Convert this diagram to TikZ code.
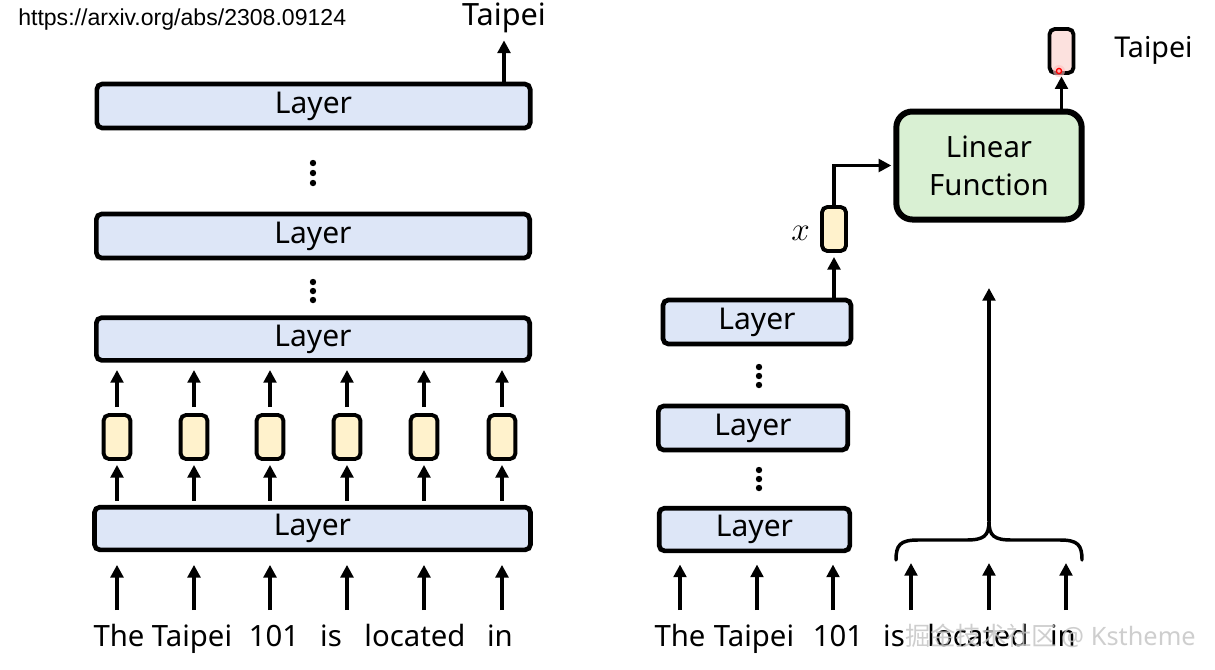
\documentclass[tikz,border=0pt]{standalone}
\usepackage{fontspec}
\setmainfont{Noto Sans}
\newfontfamily\urlfont{Liberation Sans}
\newfontfamily\cjk{Noto Sans CJK SC}
\usetikzlibrary{arrows.meta}
\definecolor{layerblue}{HTML}{DDE6F7}
\definecolor{cellyellow}{HTML}{FFF2CC}
\definecolor{lingreen}{HTML}{D9F0D3}
\definecolor{outpink}{HTML}{FCE1DE}
\tikzset{
  layerbox/.style={draw=black, line width=3.5pt, fill=layerblue, rounded corners=4pt, inner sep=0pt, font=\fontsize{22.5}{26}\selectfont},
  cellbox/.style={draw=black, line width=2.9pt, fill=cellyellow, rounded corners=4pt, minimum width=20pt, minimum height=33pt, inner sep=0pt},
  arr/.style={line width=2.5pt, -{Triangle[width=9.5pt,length=9.5pt]}},
  word/.style={font=\fontsize{22}{26}\selectfont, inner sep=0pt, anchor=base},
  dot/.style={fill=black, circle, inner sep=0pt, minimum size=4.8pt}
}
\begin{document}
\begin{tikzpicture}[x=0.75pt, y=-0.75pt]
\useasboundingbox (0,0) rectangle (1215,669);
% ---------- left panel ----------
\node[font=\urlfont\fontsize{17.3}{20}\selectfont, anchor=west, inner sep=0pt] (url) at (18,20) {https://arxiv.org/abs/2308.09124};
\node[font=\fontsize{23}{27}\selectfont] (tp) at (504,18) {Taipei};
\node[layerbox, minimum width=325pt, minimum height=33pt] (L1) at (313.5,106) {Layer};
\node[layerbox, minimum width=325pt, minimum height=33pt] (L2) at (313,236) {Layer};
\node[layerbox, minimum width=325pt, minimum height=32pt] (L3) at (313,339) {Layer};
\node[layerbox, minimum width=327pt, minimum height=32pt] (L4) at (312.5,528.5) {Layer};
\foreach \y in {163,173,183,282,291,300} \node[dot] at (313,\y) {};
\draw[arr, shorten <=-1pt, shorten >=2pt] (L1.north -| tp) -- (tp.south);
\foreach \i/\x in {1/117,2/194,3/270,4/347,5/424,6/502} {
  \node[cellbox] (c\i) at (\x,437) {};
  \draw[arr, shorten <=3pt, shorten >=3pt] (L4.north -| c\i) -- (c\i.south);
  \draw[arr, shorten <=4.5pt, shorten >=5.5pt] (c\i.north) -- (c\i.north |- L3.south);
  \coordinate (in\i) at (\x,610);
  \draw[arr, shorten >=9.5pt] (in\i) -- (in\i |- L4.south);
}
\node[word] (w1) at (119,646) {The};
\node[word] (w2) at (192,646) {Taipei};
\node[word] (w3) at (274,646) {101};
\node[word] (w4) at (331,646) {is};
\node[word] (w5) at (415,646) {located};
\node[word] (w6) at (500,646) {in};
% ---------- right panel ----------
\node[layerbox, minimum width=141pt, minimum height=33pt] (RA) at (757,322) {Layer};
\node[layerbox, minimum width=142pt, minimum height=33pt] (RB) at (753,428) {Layer};
\node[layerbox, minimum width=143pt, minimum height=32pt] (RC) at (754.5,529.5) {Layer};
\foreach \y in {367,376,385,470,479,488} \node[dot] at (759,\y) {};
\foreach \i/\x in {1/680,2/757,3/833,4/911,5/989,6/1066} {
  \coordinate (rin\i) at (\x,610);
}
\foreach \i in {1,2,3} \draw[arr, shorten >=8.5pt] (rin\i) -- (rin\i |- RC.south);
\foreach \i in {4,5,6} \draw[arr] (rin\i) -- ++(0,-47);
\node[cellbox, minimum width=18pt] (xc) at (834,229) {};
\node[font=\fontsize{25}{28}\selectfont, anchor=east, inner sep=0pt] (xl) at (810,233) {$x$};
\draw[arr, shorten <=-1pt, shorten >=3pt] (RA.north -| xc) -- (xc.south);
\node[draw=black, line width=4.5pt, fill=lingreen, rounded corners=12pt, minimum width=139pt, minimum height=81pt, align=center, font=\fontsize{22}{28.5}\selectfont] (LF) at (989,165.5) {Linear\\Function};
\draw[arr, shorten >=1.5pt] (xc.north) |- (LF.west);
\node[cellbox, fill=outpink, minimum width=18pt] (out) at (1061.5,51) {};
\draw[arr, shorten <=-1pt, shorten >=1pt] (LF.north -| out) -- (out.south);
\fill[red!25, opacity=0.6] (1059,71) circle (6);
\draw[red, line width=1pt, fill=red!30] (1059,71) circle (2.6);
\node[font=\fontsize{21.5}{25}\selectfont, anchor=west, inner sep=0pt] (tp2) at (1114,50) {Taipei};
% brace
\coordinate (bt) at (989,521);
\coordinate (btop) at (989,288);
\draw[line width=2.6pt, line cap=round] (896,560) .. controls (896,545) and (900,540) .. (918,540) -- (966,540) .. controls (984,540) and (989,536) .. (bt) .. controls (989,536) and (994,540) .. (1012,540) -- (1060,540) .. controls (1078,540) and (1082,545) .. (1082,560);
\draw[arr] (bt) -- (btop);
\node[word] (r1) at (680,646) {The};
\node[word] (r2) at (754,646) {Taipei};
\node[word] (r3) at (838,646) {101};
\node[word] (r4) at (894,646) {is};
\node[word] (r5) at (978,646) {located};
\node[word] (r6) at (1063,646) {in};
\node[font=\fontsize{19}{22}\selectfont, text=gray!45, opacity=0.85, anchor=west, inner sep=0pt] (wm) at (905,636) {\cjk 掘金技术社区\,{\fontspec{Noto Sans}@ Kstheme}};
\end{tikzpicture}
\end{document}
